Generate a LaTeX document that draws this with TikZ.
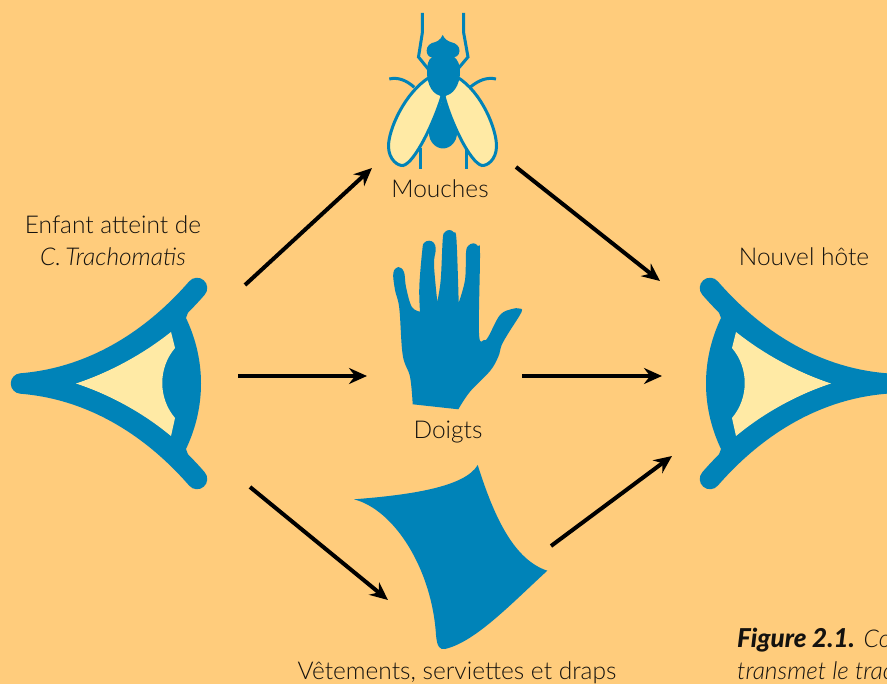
\documentclass[tikz,border=0pt]{standalone}
\usepackage{fontspec}
\setmainfont{Lato Light}
\newfontfamily\figfont{Lato Black}
\usetikzlibrary{arrows.meta}
\definecolor{sand}{RGB}{255,204,124}
\definecolor{sea}{RGB}{0,131,184}
\definecolor{cream}{RGB}{255,234,165}
\definecolor{ink}{RGB}{20,18,15}
\tikzset{
  >={Stealth[length=18pt,width=16pt,inset=6pt]},
  flow/.style={->,line width=4pt,draw=black},
  tag/.style={font=\fontsize{24.5}{28}\selectfont,text=ink,align=center,inner sep=0pt},
  leg/.style={sea,line width=3pt},
  % pictograms
  pics/eye/.style={code={
    \fill[sea] (20,383.5) .. controls (90,378) and (150,342) .. (197,288) -- (186,318)
      .. controls (206,360) and (206,407) .. (186,449) -- (197,479) .. controls (150,425) and (90,389) .. (20,383.5) -- cycle;
    \fill[cream] (76,383.5) .. controls (110,372) and (142,355) .. (171,332) -- (175,348)
      .. controls (158,368) and (158,398) .. (175,418) -- (171,436) .. controls (142,412) and (110,395) .. (76,383.5) -- cycle;
    \draw[sea,line width=20.5pt,line cap=round,line join=round] (197,288) .. controls (150,342) and (90,378) .. (21,383.5)
      .. controls (90,389) and (150,425) .. (197,479);
  }},
  pics/fly/.style={code={
    \draw[leg] (422.3,13) -- (422.3,33) -- (418.5,57) -- (429,70);
    \draw[leg] (463.7,13) -- (463.7,33) -- (468,57) -- (457,70);
    \draw[leg] (389.3,79) .. controls (398,77) and (406,80) .. (414.3,87.3);
    \draw[leg] (496,79) .. controls (487,77) and (479,80) .. (470,87.3);
    \draw[leg] (420.7,148) -- (420.7,169.5);
    \draw[leg] (466.7,148) -- (466.7,169.5);
    \fill[sea] (443,95) .. controls (441,112) and (429,120) .. (429,133) .. controls (429,142) and (436,148.5) .. (443,148.5)
      .. controls (450,148.5) and (457,142) .. (457,133) .. controls (457,120) and (445,112) .. (443,95) -- cycle;
    \draw[leg,fill=cream] (430,77) .. controls (405,92) and (388,130) .. (388.5,147)
      .. controls (389,160) and (398,166) .. (403,165.5) .. controls (415,163) and (435,120) .. (442,96) -- cycle;
    \draw[leg,fill=cream] (457,77) .. controls (482,92) and (497,130) .. (496.5,147)
      .. controls (496,160) and (487,166) .. (482,165.5) .. controls (470,163) and (450,120) .. (444,96) -- cycle;
    \fill[sea] (432,57) .. controls (428,60) and (427,65) .. (427,72) .. controls (427,85) and (433,96) .. (443,96)
      .. controls (453,96) and (460,85) .. (460,72) .. controls (460,65) and (458,60) .. (454,57) -- cycle;
    \fill[sea] (442.7,35) .. controls (440,41) and (436,42) .. (432,43) .. controls (427,45) and (426,50) .. (427,53)
      .. controls (428,57) and (431,57.5) .. (435,57.5) -- (451,57.5) .. controls (456,57.5) and (459,56) .. (459.5,51)
      .. controls (460,46) and (455,43) .. (452,42.5) .. controls (448,41) and (445,40) .. (442.7,35) -- cycle;
  }},
  pics/palm/.style={code={
    \fill[sea] plot[smooth,tension=.6] coordinates {(420,311.7) (411.7,306.7) (406,287) (404,272) (398.3,267) (393.3,273) (395,290) (399.3,308.3) (402.7,355) (410,376.7) (412.7,404.3)}
      -- plot[smooth,tension=.6] coordinates {(458.3,409.3) (470,391.7) (490,371) (498.3,356.7) (501.7,345) (508.3,333.3) (521.5,312) (519,308.5) (512,309) (500,315) (488.3,336.7) (484,340) (479,333.3) (480,253.3) (478,246) (473.3,243.3) (468,246) (466,253) (465,280) (458.7,302.7)}
      -- plot[smooth,tension=.6] coordinates {(458.7,302.7) (456.5,240) (454,232.5) (449.3,230) (444.5,232.5) (442.7,240) (440.7,280) (437.3,301.7)}
      -- plot[smooth,tension=.6] coordinates {(437.3,301.7) (434,265) (435.7,250) (434,243) (429,240.7) (424,243) (422.3,250) (419.3,286.7) (420,311.7)} -- cycle;
  }},
  pics/cloth/.style={code={
    \fill[sea] (477.7,465) .. controls (465,487) and (410,495) .. (354,499.3)
      .. controls (395,510) and (432,570) .. (436,635) .. controls (437,647) and (440,650) .. (445,649)
      .. controls (475,642) and (510,605) .. (547.3,570.7)
      .. controls (515,560) and (495,520) .. (477.7,465) -- cycle;
  }},
}
\begin{document}
\begin{tikzpicture}[x=1pt,y=-1pt]
  \useasboundingbox (0,0) rectangle (887,684);
  \clip (0,0) rectangle (887,684);
  \fill[sand] (0,0) rectangle (887,684);
  \pic {eye};
  \pic[xshift=907pt,xscale=-1] {eye};
  \pic {fly};
  \pic {palm};
  \pic {cloth};
  \node[tag] (enfant) at (113,241) {Enfant atteint de\\[4pt]\itshape C.\,Trachomatis};
  \node[tag,anchor=base] (mouches) at (440,198) {Mouches};
  \node[tag,anchor=base] (doigts) at (448,439) {Doigts};
  \node[tag,anchor=base] (hote) at (804,266) {Nouvel hôte};
  \node[tag,anchor=base] (linge) at (457,679) {Vêtements, serviettes et draps};
  \node[tag,anchor=base west,align=left] (figure) at (737,679) {{\figfont\itshape\fontsize{26}{28}\selectfont Figure 2.1.} \itshape Co\\[4pt]\itshape transmet le trac};
  \coordinate (a1) at (245,285); \coordinate (b1) at (372,168);
  \coordinate (a2) at (238,376); \coordinate (b2) at (367,376);
  \coordinate (a3) at (250,487); \coordinate (b3) at (388,600);
  \coordinate (a4) at (516,167); \coordinate (b4) at (660,281);
  \coordinate (a5) at (522,376); \coordinate (b5) at (662,376);
  \coordinate (a6) at (551,546); \coordinate (b6) at (672,456);
  \foreach \i in {1,...,6} \draw[flow] (a\i) -- (b\i);
\end{tikzpicture}
\end{document}
